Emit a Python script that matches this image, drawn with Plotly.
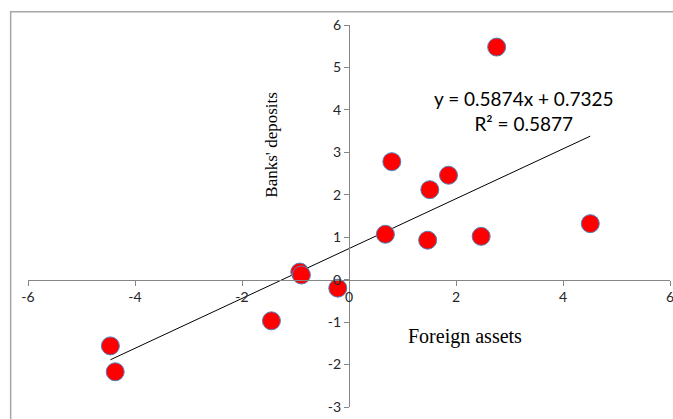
import plotly.graph_objects as go

# Data
foreign_assets = [2.76, 0.80, 1.86, 1.51, 0.68, 1.47, 2.47, 4.51, -0.92, -0.89, -0.21, -1.45, -4.46, -4.37]
banks_deposits = [5.48, 2.78, 2.46, 2.12, 1.07, 0.93, 1.02, 1.32, 0.18, 0.11, -0.20, -0.97, -1.56, -2.17]
slope = 0.5874
intercept = 0.7325
r_squared = 0.5877
x_ticks = [-6, -4, -2, 0, 2, 4, 6]
y_ticks = [-3, -2, -1, 0, 1, 2, 3, 4, 5, 6]
x_tick_labels = [str(v) for v in x_ticks]
y_tick_labels = [str(v) for v in y_ticks]

fig = go.Figure()

trend_x = [min(foreign_assets), max(foreign_assets)]
trend_y = [slope * v + intercept for v in trend_x]
fig.add_trace(go.Scatter(x=trend_x, y=trend_y, mode="lines",
                         line=dict(color="black", width=1), hoverinfo="skip",
                         showlegend=False))

fig.add_trace(go.Scatter(x=foreign_assets, y=banks_deposits, mode="markers",
                         marker=dict(size=18, color="#FF0000",
                                     line=dict(color="#4F81BD", width=1)),
                         showlegend=False))

axis_gray = "#868686"
tick_font = dict(family="Lato, Open Sans, sans-serif", size=14, color="#262626")

fig.update_layout(
    width=673, height=419,
    margin=dict(l=28, r=3, t=25, b=12),
    paper_bgcolor="white", plot_bgcolor="white",
    xaxis=dict(range=[-6, 6], tickvals=x_ticks, ticktext=x_tick_labels,
               showgrid=False, zeroline=False,
               showline=True, linecolor=axis_gray, linewidth=1,
               ticks="outside", ticklen=5, tickcolor=axis_gray,
               anchor="free", position=1/3, tickfont=tick_font,
               ticklabeloverflow="allow", automargin=False),
    yaxis=dict(range=[-3, 6], tickvals=y_ticks, ticktext=y_tick_labels,
               showgrid=False, zeroline=False,
               showline=True, linecolor=axis_gray, linewidth=1,
               ticks="outside", ticklen=5, tickcolor=axis_gray,
               anchor="free", position=0.5, tickfont=tick_font,
               ticklabeloverflow="allow", automargin=False),
    shapes=[dict(type="rect", xref="paper", yref="paper",
                 x0=-0.027, x1=1.2, y0=-0.3, y1=1.0345,
                 line=dict(color="#A6A6A6", width=1.5), layer="above")],
    annotations=[
        dict(x=-1.44, y=3.18, xref="x", yref="y", text="Banks' deposits",
             textangle=-90, showarrow=False,
             font=dict(family="Liberation Serif, Times New Roman, serif", size=17, color="black")),
        dict(x=2.17, y=-1.35, xref="x", yref="y", text="Foreign assets",
             showarrow=False,
             font=dict(family="Liberation Serif, Times New Roman, serif", size=20, color="black")),
        dict(x=3.27, y=3.97, xref="x", yref="y",
             text=f"y = {slope}x + {intercept}<br>R² = {r_squared}",
             showarrow=False, align="center",
             font=dict(family="Lato, Open Sans, sans-serif", size=19, color="black")),
    ],
)

fig.write_html(
    "out.html",
    config={"displayModeBar": False},
    post_script="document.body.style.margin='0';document.body.style.overflow='hidden';",
)
